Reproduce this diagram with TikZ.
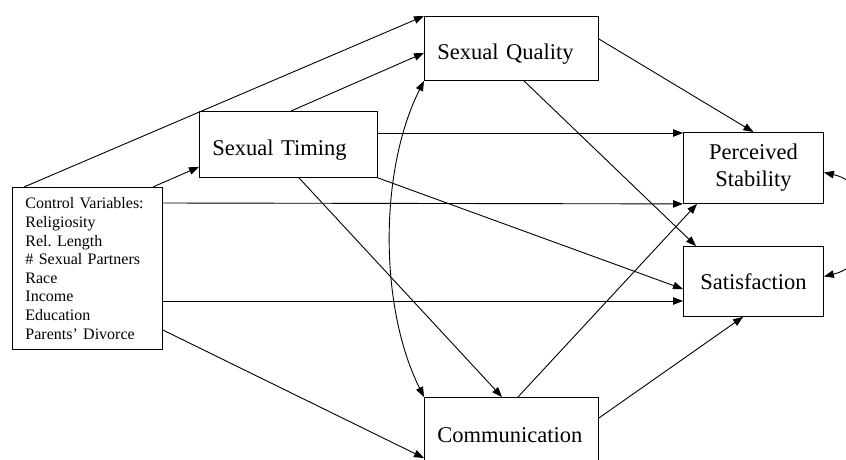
\documentclass[tikz,border=0pt]{standalone}
\usepackage{fontspec}
\setmainfont{Liberation Serif}
\usetikzlibrary{arrows.meta,calc}
\frenchspacing
\newcommand{\lowered}[1]{\raisebox{-6pt}[16pt][5pt]{#1}}
\begin{document}
\begin{tikzpicture}[x=1pt,y=-1pt,
  box/.style={draw,line width=0.9pt,anchor=north west,inner xsep=13pt,inner ysep=2pt,align=left,font=\fontsize{22.5}{27}\selectfont},
  ctr/.style={box,align=center},
  arr/.style={line width=0.9pt,-{Triangle[length=10pt,width=7.5pt]}},
  darr/.style={line width=0.9pt,{Triangle[length=10pt,width=7.5pt]}-{Triangle[length=10pt,width=7.5pt]}}]
\useasboundingbox (0,0) rectangle (846,459);
\clip (0,0) rectangle (846,459);
\node[box,minimum width=150pt,minimum height=162pt,text width=124pt,font=\fontsize{16}{18.6}\selectfont] (cv) at (12,187)
  {Control Variables:\\Religiosity\\Rel. Length\\\# Sexual Partners\\Race\\Income\\Education\\Parents' Divorce};
\node[box,minimum width=178pt,minimum height=66pt,text width=152pt] (st) at (199,111) {\lowered{Sexual Timing}};
\node[box,minimum width=174pt,minimum height=64pt,text width=148pt] (sq) at (424,16) {\lowered{Sexual Quality}};
\node[ctr,minimum width=140pt,minimum height=71pt,text width=114pt] (ps) at (683,132) {Perceived\\Stability};
\node[ctr,minimum width=140pt,minimum height=70pt,text width=114pt] (sat) at (683,246) {Satisfaction};
\node[box,minimum width=174pt,minimum height=76pt,text width=148pt] (com) at (424,397) {Communication};
% paths
\draw[arr] ($(cv.north west)+(12,0)$) -- (sq.north west);
\draw[arr] ($(cv.north east)+(-10,0)$) -- ($(st.south west)+(0,-11)$);
\draw[arr] ($(st.north west)+(92,0)$) -- ($(sq.south west)+(0,-28)$);
\draw[arr] ($(st.north east)+(0,22)$) -- ($(ps.north west)+(0,1)$);
\draw[arr] (st.south east) -- ($(sat.north west)+(0,43)$);
\draw[arr] ($(st.south west)+(100,0)$) -- ($(com.north west)+(78,0)$);
\draw[arr] ($(cv.north east)+(0,16)$) -- (ps.south west);
\draw[arr] ($(cv.north east)+(0,114)$) -- ($(sat.north west)+(0,55)$);
\draw[arr] ($(cv.north east)+(0,143)$) -- ($(com.north west)+(0,61)$);
\draw[arr] ($(sq.north east)+(0,23)$) -- (ps.north);
\draw[arr] ($(sq.south west)+(100,0)$) -- ($(sat.north west)+(13,0)$);
\draw[arr] ($(com.north west)+(94,0)$) -- ($(ps.south west)+(14,0)$);
\draw[arr] ($(com.north east)+(0,21)$) -- ($(sat.south west)+(60,0)$);
% covariances
\draw[darr] (sq.south west) .. controls (379,170) and (379,307) .. (com.north west);
\draw[darr] ($(ps.east)+(0,4.5)$) .. controls (880,185) and (880,263) .. ($(sat.east)+(0,-5)$);
\end{tikzpicture}
\end{document}
